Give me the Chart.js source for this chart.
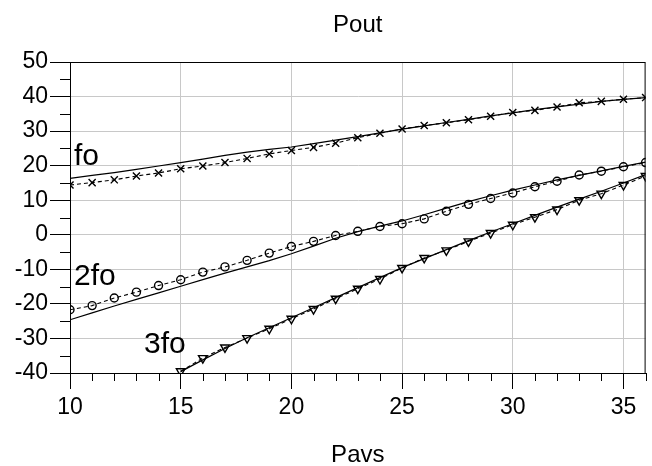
<!DOCTYPE html>
<html>
<head>
<meta charset="utf-8">
<script src="https://cdn.jsdelivr.net/npm/chart.js@4.4.1/dist/chart.umd.min.js"></script>
<style>
  html, body { margin: 0; padding: 0; background: #fff; }
  #wrap { width: 652px; height: 466px; }
</style>
</head>
<body>
<div id="wrap"><canvas id="poutChart" width="652" height="466"></canvas></div>
<script>
const pavs = [10, 11, 12, 13, 14, 15, 16, 17, 18, 19, 20, 21, 22, 23, 24, 25, 26, 27, 28, 29, 30, 31, 32, 33, 34, 35, 36];

// measured (markers, dashed)
const foMeas = [14.4, 15.1, 15.9, 17.0, 17.9, 19.1, 19.9, 20.9, 22.1, 23.4, 24.4, 25.3, 26.5, 28.1, 29.4, 30.6, 31.6, 32.4, 33.3, 34.3, 35.4, 36.0, 37.0, 38.2, 38.6, 39.2, 39.7];
const fo2Meas = [-21.7, -20.5, -18.3, -16.6, -14.7, -13.0, -10.8, -9.3, -7.4, -5.3, -3.4, -1.9, -0.2, 1.0, 2.4, 3.2, 4.6, 6.8, 8.8, 10.5, 12.1, 13.9, 15.5, 17.3, 18.4, 19.7, 20.9];
const fo3Meas = [null, null, null, null, null, -39.5, -35.7, -32.6, -29.9, -27.2, -24.3, -21.5, -18.5, -15.6, -12.8, -9.6, -6.7, -4.5, -1.9, 0.5, 2.9, 5.1, 7.3, 10.0, 11.9, 14.4, 17.0];

// simulated (solid)
const foSim = [16.3, 17.2, 18.0, 18.9, 19.9, 20.9, 21.9, 23.0, 23.9, 24.7, 25.4, 26.4, 27.4, 28.4, 29.5, 30.6, 31.5, 32.5, 33.4, 34.4, 35.3, 36.2, 37.0, 37.8, 38.6, 39.2, 39.7];
const fo2Sim = [-24.6, -22.6, -20.6, -18.7, -16.8, -14.9, -13.0, -11.1, -9.3, -7.5, -5.5, -3.3, -1.0, 0.9, 2.5, 4.0, 5.8, 7.7, 9.6, 11.3, 12.9, 14.4, 15.9, 17.2, 18.5, 19.8, 21.0];
const fo3Sim = [null, null, null, null, null, -39.6, -36.2, -32.9, -29.8, -26.9, -24.0, -21.1, -18.2, -15.3, -12.4, -9.5, -6.9, -4.3, -1.7, 0.8, 3.2, 5.6, 8.0, 10.3, 12.6, 15.0, 17.4];

const harmonicLabels = ["fo", "2fo", "3fo"];
const xTitle = "Pavs";
const yTitle = "Pout";

const FONT = "'Liberation Sans', Arial, sans-serif";

function pts(ys) {
  return pavs.map((x, i) => ({ x: x, y: ys[i] })).filter(p => p.y !== null);
}

function simSet(ys) {
  return {
    data: pts(ys),
    showLine: true,
    borderColor: "#000",
    borderWidth: 1.2,
    pointRadius: 0,
    fill: false
  };
}

function measSet(ys, style, radius, rot) {
  return {
    data: pts(ys),
    showLine: true,
    borderColor: "#000",
    borderWidth: 1.1,
    borderDash: [4, 3],
    pointStyle: style,
    pointRadius: radius,
    pointRotation: rot,
    pointBorderColor: "#000",
    pointBorderWidth: 1.4,
    pointBackgroundColor: "rgba(0,0,0,0)",
    fill: false
  };
}

const extras = {
  id: "extras",
  afterDraw(chart) {
    const { ctx, chartArea, scales } = chart;
    const xs = scales.x, ys = scales.y;
    ctx.save();
    ctx.strokeStyle = "#000";
    ctx.lineWidth = 1;

    // frame
    ctx.strokeRect(chartArea.left + 0.5, chartArea.top + 0.5,
      chartArea.right - chartArea.left - 1, chartArea.bottom - chartArea.top);

    // minor ticks
    ctx.beginPath();
    for (let v = -35; v < 50; v += 10) {
      const py = Math.round(ys.getPixelForValue(v)) + 0.5;
      ctx.moveTo(chartArea.left - 10, py);
      ctx.lineTo(chartArea.left, py);
    }
    for (let v = 11; v <= 36; v++) {
      if (v % 5 === 0) continue;
      const px = Math.round(xs.getPixelForValue(v)) + 0.5;
      ctx.moveTo(px, chartArea.bottom);
      ctx.lineTo(px, chartArea.bottom + 8);
    }
    ctx.stroke();

    // titles
    ctx.fillStyle = "#000";
    ctx.textAlign = "center";
    ctx.textBaseline = "middle";
    ctx.font = "24px " + FONT;
    const cx = (chartArea.left + chartArea.right) / 2;
    ctx.fillText(yTitle, cx, 25);
    ctx.fillText(xTitle, cx, 455);

    // harmonic labels
    ctx.textAlign = "left";
    ctx.textBaseline = "alphabetic";
    ctx.font = "30px " + FONT;
    ctx.fillText(harmonicLabels[0], 74, 165);
    ctx.fillText(harmonicLabels[1], 74, 285);
    ctx.fillText(harmonicLabels[2], 144, 353);
    ctx.restore();
  }
};

new Chart(document.getElementById("poutChart"), {
  type: "scatter",
  data: {
    datasets: [
      simSet(foSim),
      measSet(foMeas, "crossRot", 5, 0),
      simSet(fo2Sim),
      measSet(fo2Meas, "circle", 4, 0),
      simSet(fo3Sim),
      measSet(fo3Meas, "triangle", 5, 180)
    ]
  },
  plugins: [extras],
  options: {
    responsive: false,
    animation: false,
    layout: { padding: { top: 62, right: 2, left: 0, bottom: 0 } },
    plugins: {
      legend: { display: false },
      tooltip: { enabled: false },
      title: { display: false }
    },
    scales: {
      x: {
        type: "linear",
        min: 10,
        max: 36,
        afterFit(scale) { scale.height = 93; },
        ticks: {
          stepSize: 5,
          includeBounds: false,
          color: "#000",
          padding: 5,
          maxRotation: 0,
          font: { family: FONT, size: 23 }
        },
        grid: {
          color: "#c8c8c8",
          lineWidth: 1,
          tickColor: "#000",
          tickLength: 16,
          drawTicks: true
        },
        border: { color: "#000", width: 1 }
      },
      y: {
        type: "linear",
        min: -40,
        max: 50,
        afterFit(scale) { scale.width = 70; },
        ticks: {
          stepSize: 10,
          color: "#000",
          padding: 2,
          font: { family: FONT, size: 23 }
        },
        grid: {
          color: "#c8c8c8",
          lineWidth: 1,
          tickColor: "#000",
          tickLength: 20,
          drawTicks: true
        },
        border: { color: "#000", width: 1 }
      }
    }
  }
});
</script>
</body>
</html>
